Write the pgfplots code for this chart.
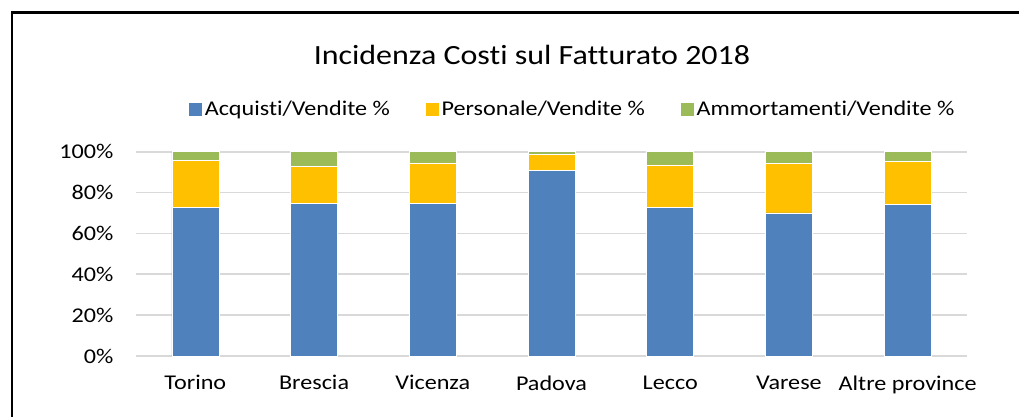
\documentclass[border=0pt]{standalone}
\usepackage{pgfplots}
\pgfplotsset{compat=1.18}
\usepackage{fontspec}
\setmainfont[FakeStretch=1.15,Ligatures=NoCommon]{Carlito}
\definecolor{cblue}{HTML}{4F81BD}
\definecolor{cyellow}{HTML}{FFC000}
\definecolor{cgreen}{HTML}{9BBB59}
\definecolor{cgrid}{HTML}{D9D9D9}
\begin{document}
\begin{tikzpicture}[x=1pt,y=1pt]
\useasboundingbox (0,0) rectangle (1019,416);
\fill[white] (0,0) rectangle (1019,416);
\draw[black,line width=2.2pt] (12,-2) -- (12,403.5) -- (1021,403.5);
\node[font=\fontsize{27.8pt}{32pt}\selectfont] at (532,361) {Incidenza Costi sul Fatturato 2018};
\begin{axis}[
  at={(136pt,60pt)}, anchor=south west,
  scale only axis, width=831pt, height=204.3pt,
  ybar stacked, bar width=47pt,
  xmin=-0.5, xmax=6.5, ymin=0, ymax=100,
  xtick=data,
  xticklabels={Torino,Brescia,Vicenza,Padova,Lecco,Varese,Altre province},
  ytick={0,20,40,60,80,100},
  yticklabels={0\%,20\%,40\%,60\%,80\%,100\%},
  ymajorgrids, grid style={cgrid,line width=1.6pt},
  axis line style={draw=none},
  major tick length=0pt,
  tick label style={font=\fontsize{21pt}{25pt}\selectfont},
  yticklabel style={xshift=-19pt},
  xticklabel style={yshift=-16pt},
  legend columns=3,
  legend style={at={(0.525,1.209)}, anchor=center, draw=none, fill=none,
    font=\fontsize{21pt}{25pt}\selectfont,
    /tikz/every even column/.append style={column sep=33pt}},
  legend image code/.code={\fill[#1] (0pt,-7pt) rectangle (14pt,7pt);},
  every axis plot/.append style={draw=white, line width=0.6pt},
]
\addplot[fill=cblue] coordinates {(0,72.9) (1,74.7) (2,74.7) (3,90.8) (4,72.7) (5,70.0) (6,74.2)};
\addplot[fill=cyellow] coordinates {(0,22.7) (1,18.3) (2,19.8) (3,7.7) (4,20.8) (5,24.1) (6,20.9)};
\addplot[fill=cgreen] coordinates {(0,4.4) (1,7.0) (2,5.5) (3,1.5) (4,6.5) (5,5.9) (6,4.9)};
\draw[cgrid,line width=1.6pt] (axis cs:-0.5,0) -- (axis cs:6.5,0);
\legend{Acquisti/Vendite \%,Personale/Vendite \%,Ammortamenti/Vendite \%}
\end{axis}
\end{tikzpicture}
\end{document}
